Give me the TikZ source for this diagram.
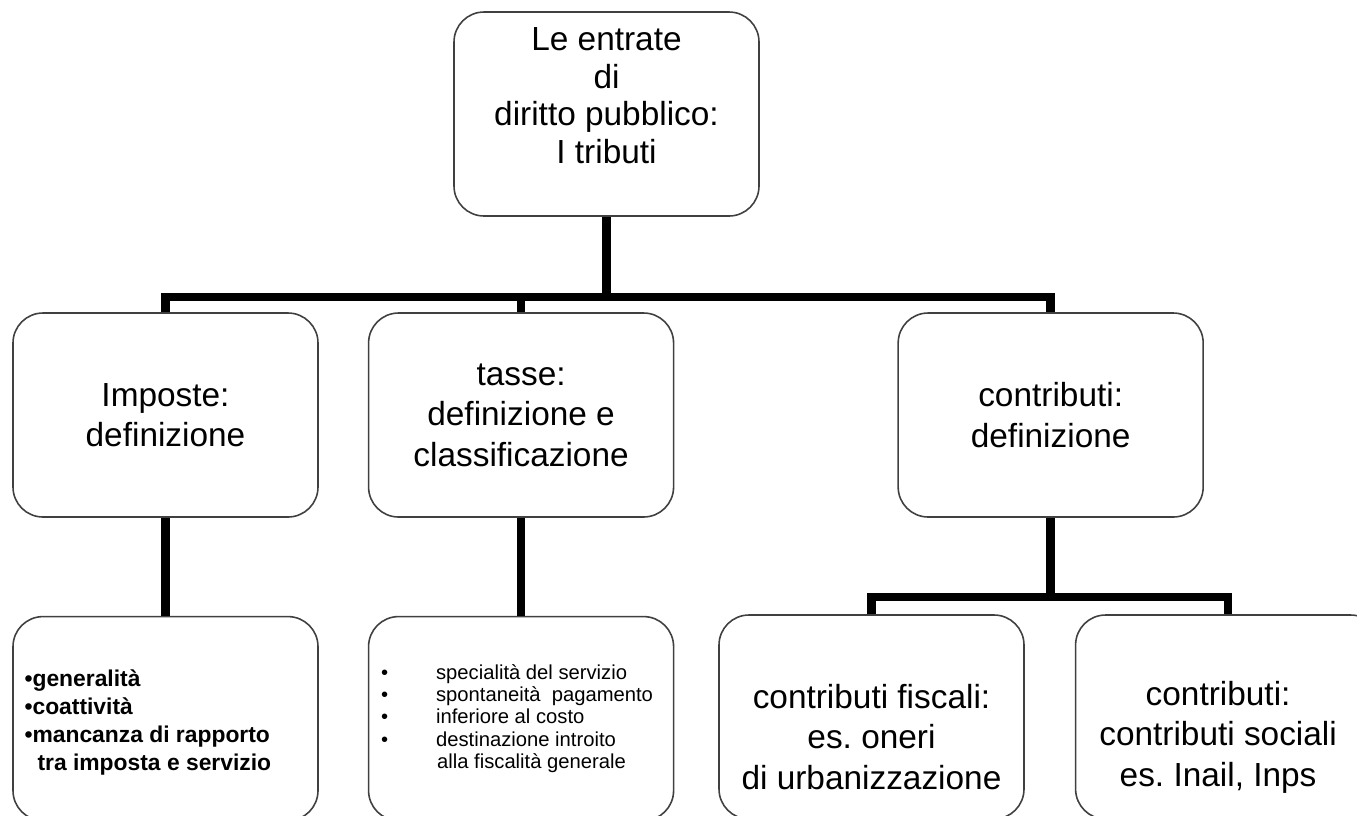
\documentclass[tikz,border=0pt]{standalone}
\usepackage{fontspec}
\setmainfont{Liberation Sans}
\usepackage{tikz}
\usetikzlibrary{positioning}
\frenchspacing
\tikzset{
    box/.style={rectangle, draw=black!75, line width=0.9pt, fill=white, rounded corners=0.6cm, minimum width=6.1cm, minimum height=4.08cm, inner sep=0pt, align=center, font=\fontsize{19}{23}\selectfont},
    mainText/.style={align=center, inner sep=0pt, font=\fontsize{19}{23}\selectfont},
    titleText/.style={align=center, inner sep=0pt, font=\fontsize{19}{21.4}\selectfont},
    boldList/.style={align=left, inner sep=0pt, font=\bfseries\fontsize{13}{16}\selectfont},
    plainList/.style={align=left, inner sep=0pt, font=\fontsize{11.5}{12.6}\selectfont},
    bus/.style={line width=5pt, line join=miter}
}

\begin{document}
\begin{tikzpicture}
    \useasboundingbox (0,0) rectangle (27.14,-16.3);
    \clip (0,0) rectangle (27.14,-16.3);

    % Boxes
    \node[box] (top) at (12.13,-2.28) {};
    \node[box] (imposte) at (3.31,-8.30) {Imposte:\\definizione};
    \node[box, right=0.98cm of imposte] (tasse) {tasse:\\definizione e\\classificazione};
    \node[box, right=4.46cm of tasse] (contributi) {contributi:\\definizione};
    \node[box, below=1.96cm of imposte] (generalita) {};
    \node[box, below=1.96cm of tasse] (specialita) {};
    \node[box] (fiscali) at (17.43,-14.34) {};
    \node[box, right=1cm of fiscali] (sociali) {};

    % Texts
    \node[titleText] (topText) at ([yshift=0.37cm]top.center) {Le entrate\\di\\diritto pubblico:\\I tributi};
    \node[boldList, anchor=west] (generalitaText) at ([xshift=0.24cm, yshift=-0.08cm]generalita.west)
        {•generalità\\•coattività\\•mancanza di rapporto\\\hspace*{0.26cm}tra imposta e servizio};
    \node[plainList, anchor=west] (specialitaText) at ([xshift=0.26cm]specialita.west)
        {\makebox[1.1cm][l]{•}specialità del servizio\\
         \makebox[1.1cm][l]{•}spontaneità~ pagamento\\
         \makebox[1.1cm][l]{•}inferiore al costo\\
         \makebox[1.1cm][l]{•}destinazione introito\\
         \hspace*{1.12cm}alla fiscalità generale};
    \node[mainText] (fiscaliText) at ([yshift=-0.4cm]fiscali.center) {contributi fiscali:\\es. oneri\\di urbanizzazione};
    \node[mainText] (socialiText) at ([xshift=-0.2cm, yshift=-0.4cm]sociali.center) {contributi:\\contributi sociali\\es. Inail, Inps};

    % Edges
    \coordinate (busTop) at (0,-5.94);
    \coordinate (busLow) at (0,-11.94);
    \draw[bus] (imposte.north) -- (imposte.north |- busTop) -- (contributi.north |- busTop) -- (contributi.north);
    \draw[bus] (top.south) -- (top.south |- busTop);
    \draw[bus] (tasse.north) -- (tasse.north |- busTop);
    \draw[bus] (imposte) -- (generalita);
    \draw[bus] (tasse) -- (specialita);
    \draw[bus] (contributi.south) -- (contributi.south |- busLow);
    \draw[bus] (fiscali.north) -- (fiscali.north |- busLow) -- (sociali.north |- busLow) -- (sociali.north);

\end{tikzpicture}
\end{document}
